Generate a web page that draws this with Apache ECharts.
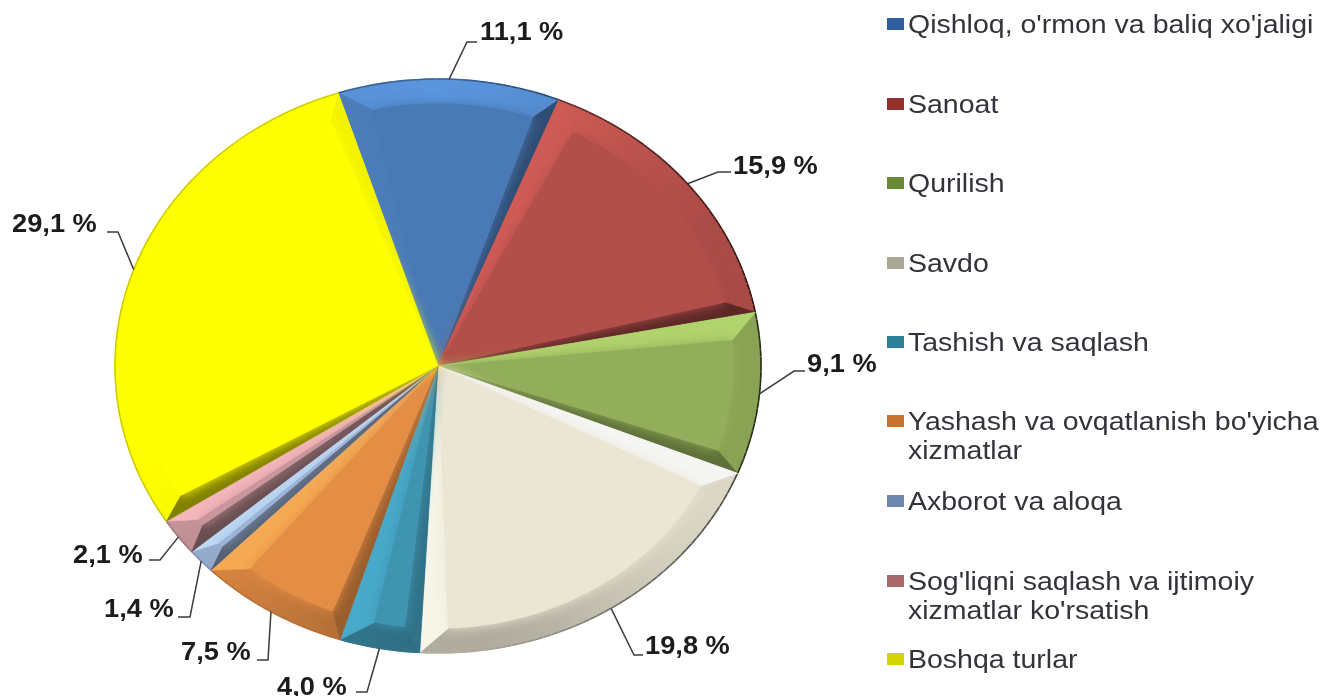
<!DOCTYPE html>
<html>
<head>
<meta charset="utf-8">
<style>
  html, body { margin: 0; background: #fff; }
  /* the reference is a soft, upscaled screenshot */
  #chart { width: 1328px; height: 696px; filter: blur(0.6px); }
</style>
<script src="https://cdn.jsdelivr.net/npm/echarts@6/dist/echarts.min.js"></script>
</head>
<body>
<div id="chart"></div>
<script>
const categories = [
  "Qishloq, o'rmon va baliq xo'jaligi",
  "Sanoat",
  "Qurilish",
  "Savdo",
  "Tashish va saqlash",
  "Yashash va ovqatlanish bo'yicha xizmatlar",
  "Axborot va aloqa",
  "Sog'liqni saqlash va ijtimoiy xizmatlar ko'rsatish",
  "Boshqa turlar",
];
const values = [11.1, 15.9, 9.1, 19.8, 4.0, 7.5, 1.4, 2.1, 29.1];
const sliceColors = ["#4a7ab5", "#b34f4a", "#92ae5a", "#ebe6d3", "#3f94b0", "#e48d45", "#9db4d8", "#c9969b", "#ffff00"];
const legendColors = ["#2f5f9c", "#96302e", "#6b8a35", "#a8a793", "#2c7f97", "#c8702c", "#6d86ad", "#a8686c", "#d4d400"];

// leader line elbow and label position for each slice, [elbowX, elbowY, endX, textX, textY]
const labelLayout = [
  [467, 42, 477, 480, 33],
  [718, 172, 731, 733, 167],
  [794, 371, 805, 807, 365],
  [634, 655, 643, 645, 647],
  [367, 692, 356, 277, 688],
  [268, 660, 257, 181, 653],
  [190, 617, 178, 104, 610],
  [160, 560, 149, 73, 556],
  [118, 232, 107, 12, 225],
];
const legendY = [24, 104, 183, 263, 342, 421, 501, 581, 659];

// the pie in the picture is an ellipse, so slices are drawn by hand in a custom series
const cx = 438, cy = 366, rx = 323, ry = 287;
const startDeg = -18;
const bevel = 0.085;
const lightDir = [-0.4, -0.92];

const total = values.reduce((a, b) => a + b, 0);
const rad = (d) => (d * Math.PI) / 180;
const polar = (a, t) => [cx + rx * t * Math.sin(a), cy - ry * t * Math.cos(a)];

function channels(hex) {
  return [1, 3, 5].map((i) => parseInt(hex.substr(i, 2), 16));
}

// lit faces get brighter, not paler, shaded ones go towards black
function shade(base, d, darkK) {
  const f = d > 0 ? 1 + d * 0.22 : 1 + d * darkK;
  // yellow is already at full strength, the cap only matters for the cream slice
  const cap = base === "#ffff00" ? 255 : 245;
  return "rgb(" + channels(base).map((v) => Math.min(cap, Math.round(v * f))).join(",") + ")";
}
const facing = (nx, ny) => nx * lightDir[0] + ny * lightDir[1];

function sliceChildren(i, value) {
  const before = values.slice(0, i).reduce((a, b) => a + b, 0);
  const a0 = rad(startDeg + (before / total) * 360);
  const a1 = a0 + rad((value / total) * 360);
  const half = (a1 - a0) / 2;
  const d0 = facing(-Math.cos(a0), -Math.sin(a0));
  const d1 = facing(Math.cos(a1), Math.sin(a1));
  // lit edges are wider than the shaded ones
  const delta0 = Math.min(rad(d0 > 0 ? 5.2 : 3.2), half * 0.8);
  const delta1 = Math.min(rad(d1 > 0 ? 5.2 : 3.2), half * 0.8);
  const base = sliceColors[i];
  const c = [cx, cy];
  const p0 = polar(a0 + delta0, 1 - bevel);
  const p1 = polar(a1 - delta1, 1 - bevel);
  const innerSpan = a1 - a0 - delta0 - delta1;
  const n = Math.max(3, Math.ceil((a1 - a0) / rad(1.5)));

  // whole slice underneath, so seams between the rim pieces don't show white
  const whole = [c];
  for (let k = 0; k <= n; k++) whole.push(polar(a0 + (a1 - a0) * (k / n), 1));
  const children = [{ type: "polygon", shape: { points: whole }, style: { fill: base } }];

  // outer rim, split into short pieces so the light changes along the arc
  for (let k = 0; k < n; k++) {
    const f0 = k / n, f1 = (k + 1) / n;
    const oa0 = a0 + (a1 - a0) * f0, oa1 = a0 + (a1 - a0) * f1;
    const ia0 = a0 + delta0 + innerSpan * f0;
    const ia1 = a0 + delta0 + innerSpan * f1;
    const mid = (oa0 + oa1) / 2;
    const up = Math.cos(mid); // 1 at the top of the pie, -1 at the bottom
    const d = (up > 0 ? Math.pow(up, 4) : -Math.pow(up, 4)) - 0.25 * Math.max(0, Math.sin(mid));
    const col = shade(base, d, 0.25);
    children.push({
      type: "polygon",
      shape: { points: [polar(oa0, 1), polar(oa1, 1), polar(ia1, 1 - bevel), polar(ia0, 1 - bevel)] },
      style: { fill: col, stroke: col, lineWidth: 1 },
    });
    const edgeDark = 0.2 + 0.55 * Math.max(0, Math.sin(mid));
    children.push({
      type: "polyline",
      shape: { points: [polar(oa0, 1), polar(oa1, 1)] },
      style: { fill: null, stroke: shade(base, -edgeDark, 1), lineWidth: 1.6 },
    });
  }

  // the two straight edges
  const leftCol = shade(base, d0, 0.5);
  const rightCol = shade(base, d1, 0.5);
  children.push({
    type: "polygon",
    shape: { points: [c, polar(a0, 1), p0] },
    style: { fill: leftCol, stroke: leftCol, lineWidth: 0.6 },
  });
  children.push({
    type: "polygon",
    shape: { points: [c, polar(a1, 1), p1] },
    style: { fill: rightCol, stroke: rightCol, lineWidth: 0.6 },
  });

  // flat middle, its shadow softens the step to the bevel
  const face = [c];
  for (let k = 0; k <= n; k++) {
    face.push(polar(a0 + delta0 + innerSpan * (k / n), 1 - bevel));
  }
  children.push({
    type: "polygon",
    shape: { points: face },
    style: { fill: base, shadowBlur: 12, shadowColor: base },
  });
  return children;
}

function labelChildren(i, value) {
  const before = values.slice(0, i).reduce((a, b) => a + b, 0);
  const mid = rad(startDeg + ((before + value / 2) / total) * 360);
  const [ex, ey, endX, tx, ty] = labelLayout[i];
  return [
    {
      type: "polyline",
      shape: { points: [polar(mid, 1), [ex, ey], [endX, ey]] },
      style: { fill: null, stroke: "#3c3c3c", lineWidth: 1.5 },
    },
    {
      type: "text",
      x: tx,
      y: ty,
      scaleX: 1.09,
      style: {
        text: value.toFixed(1).replace(".", ",") + " %",
        fill: "#1c1c1c",
        font: 'bold 25px "Liberation Sans"',
        textAlign: "left",
        textVerticalAlign: "middle",
      },
    },
  ];
}

const series = categories.map((name, i) => ({
  type: "custom",
  name,
  coordinateSystem: "none",
  silent: true,
  animation: false,
  itemStyle: { color: legendColors[i] },
  data: [values[i]],
  renderItem: (params, api) => ({
    type: "group",
    children: sliceChildren(i, api.value(0)),
  }),
}));

// labels go in their own series so no slice paints over them
series.push({
  type: "custom",
  coordinateSystem: "none",
  silent: true,
  animation: false,
  data: values.map((v, i) => [v, i]),
  renderItem: (params, api) => ({
    type: "group",
    children: labelChildren(api.value(1), api.value(0)),
  }),
});

// legend draws only the swatches, its text can't be stretched like the picture's so that goes in graphic
const legend = categories.map((name, i) => ({
  left: 887,
  top: legendY[i] - 6,
  padding: 0,
  itemWidth: 17,
  itemHeight: 12,
  selectedMode: false,
  icon: "rect",
  formatter: () => "",
  data: [{ name, itemStyle: { color: legendColors[i] } }],
}));

const legendText = categories.map((name, i) => ({
  type: "text",
  x: 908,
  y: legendY[i] - 12,
  scaleX: 1.14,
  style: {
    text: name.replace(" xizmatlar", "\nxizmatlar"),
    fill: "#33333b",
    font: '25px "Liberation Sans"',
    lineHeight: 29,
    textVerticalAlign: "top",
  },
}));

const chart = echarts.init(document.getElementById("chart"), null, { renderer: "canvas" });
chart.setOption({
  animation: false,
  backgroundColor: "#fff",
  tooltip: { show: false },
  legend,
  graphic: legendText,
  series,
});
</script>
</body>
</html>
